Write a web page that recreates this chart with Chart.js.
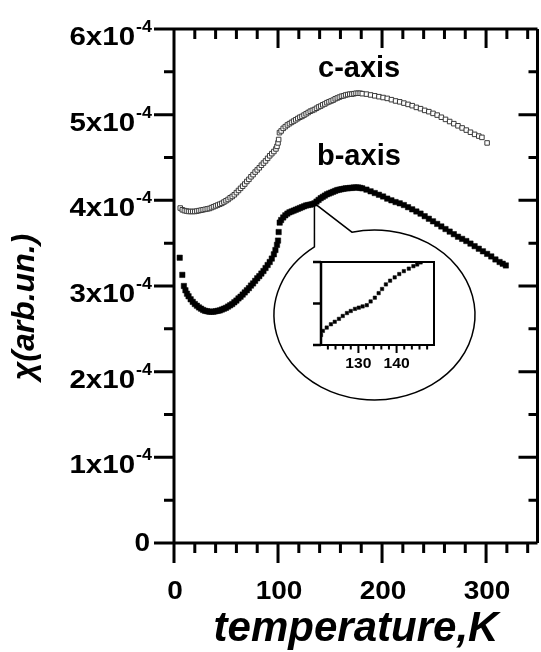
<!DOCTYPE html>
<html>
<head>
<meta charset="utf-8">
<script src="https://cdn.jsdelivr.net/npm/chart.js@4.4.1/dist/chart.umd.min.js"></script>
<style>
  html, body { margin: 0; padding: 0; background: #fff; }
  #wrap { position: relative; width: 541px; height: 652px; overflow: hidden; }
  #mainChart { position: absolute; left: 0; top: 0; }
  #insetChart { position: absolute; left: 300px; top: 250px; }
</style>
</head>
<body>
<div id="wrap">
  <canvas id="mainChart" width="541" height="652"></canvas>
  <canvas id="insetChart" width="150" height="125"></canvas>
</div>
<script>
// values are read in units of 1e-4
const UNIT = 1e-4;

const cTemps = [
  6, 8, 10, 12, 14, 16, 18, 20, 22, 24, 26, 28, 30, 32, 34, 36, 38, 40, 42, 44,
  46, 48, 50, 52, 54, 56, 58, 60, 62, 64, 66, 68, 70, 72, 74, 76, 78, 80, 82, 84,
  86, 88, 90, 92, 94, 96, 98, 99, 100, 100.6, 101.4, 103, 105, 107, 109, 111, 113, 115, 117, 119,
  121, 123, 125, 127, 129, 131, 133, 135, 137, 139, 141, 143, 145, 147, 149, 151, 153, 155, 157, 159,
  161, 163, 165, 167, 169, 171, 173, 175, 177, 179, 181,
  185, 189, 193, 197, 201, 205, 209, 213, 217, 221, 225, 229, 233, 237, 241, 245, 249, 253, 257, 261,
  265, 269, 273, 277, 281, 285, 289, 293, 296, 301,
];
const cValues = [
  3.91, 3.89, 3.88, 3.875, 3.87, 3.87, 3.87, 3.87, 3.875, 3.88, 3.885, 3.89, 3.895, 3.90, 3.905, 3.915, 3.925, 3.935, 3.945, 3.955,
  3.965, 3.98, 3.995, 4.01, 4.03, 4.045, 4.065, 4.09, 4.115, 4.14, 4.165, 4.19, 4.22, 4.245, 4.275, 4.30, 4.33, 4.355, 4.38, 4.41,
  4.435, 4.46, 4.49, 4.52, 4.545, 4.57, 4.60, 4.63, 4.67, 4.71, 4.79, 4.81, 4.84, 4.86, 4.88, 4.895, 4.91, 4.925, 4.94, 4.955,
  4.97, 4.98, 4.995, 5.01, 5.025, 5.04, 5.05, 5.06, 5.075, 5.09, 5.10, 5.115, 5.125, 5.14, 5.15, 5.16, 5.17, 5.185, 5.195, 5.205,
  5.215, 5.22, 5.23, 5.235, 5.24, 5.24, 5.245, 5.25, 5.25, 5.25, 5.245,
  5.24, 5.23, 5.22, 5.21, 5.20, 5.19, 5.175, 5.16, 5.15, 5.135, 5.12, 5.105, 5.085, 5.07, 5.05, 5.035, 5.015, 4.995, 4.97, 4.945,
  4.92, 4.895, 4.87, 4.845, 4.82, 4.795, 4.77, 4.75, 4.735, 4.67,
];

const bTemps = [
  5.5, 8, 9.5, 11, 12.5, 14, 16, 18, 20, 22, 24, 26, 28, 30, 32, 34, 36, 38, 40, 42,
  44, 46, 48, 50, 52, 54, 56, 58, 60, 62, 64, 66, 68, 70, 72, 74, 76, 78, 80, 82,
  84, 86, 88, 90, 92, 94, 96, 97.5, 99, 100, 100.6, 101.6, 103, 105, 107, 109, 111, 113, 115, 117,
  119, 121, 123, 125, 127, 129, 131, 133, 135, 137, 139, 141, 143, 145, 147, 149, 151, 153, 155, 157,
  159, 161, 163, 165, 167, 169, 171, 173, 175, 177, 179, 181,
  185, 189, 193, 197, 201, 205, 209, 213, 217, 221, 225, 229, 233, 237, 241, 245, 249, 253, 257, 261,
  265, 269, 273, 277, 281, 285, 289, 293, 297, 301, 305, 309, 313, 316, 319,
];
const bValues = [
  3.33, 3.13, 3.00, 2.95, 2.91, 2.88, 2.845, 2.815, 2.79, 2.77, 2.75, 2.735, 2.72, 2.71, 2.705, 2.70, 2.70, 2.70, 2.705, 2.71,
  2.715, 2.725, 2.735, 2.745, 2.76, 2.775, 2.79, 2.81, 2.83, 2.855, 2.875, 2.90, 2.925, 2.95, 2.975, 3.005, 3.03, 3.06, 3.09, 3.115,
  3.145, 3.175, 3.21, 3.245, 3.28, 3.32, 3.37, 3.42, 3.48, 3.53, 3.63, 3.74, 3.77, 3.80, 3.825, 3.845, 3.86, 3.87, 3.88, 3.89,
  3.90, 3.91, 3.92, 3.93, 3.94, 3.945, 3.95, 3.955, 3.965, 3.985, 4.005, 4.025, 4.04, 4.055, 4.07, 4.08, 4.09, 4.10, 4.11, 4.12,
  4.125, 4.13, 4.135, 4.14, 4.14, 4.145, 4.145, 4.15, 4.15, 4.15, 4.145, 4.14,
  4.125, 4.105, 4.085, 4.065, 4.045, 4.02, 4.00, 3.98, 3.965, 3.945, 3.92, 3.895, 3.87, 3.845, 3.815, 3.785, 3.755, 3.725, 3.695, 3.665,
  3.635, 3.605, 3.575, 3.55, 3.525, 3.495, 3.465, 3.435, 3.405, 3.375, 3.345, 3.31, 3.28, 3.26, 3.24,
];

const insetTemps = [
  120.2, 120.7, 121.7, 122.8, 123.8, 124.9, 125.9, 127.0, 128.0, 129.1, 130.1, 131.1, 132.2,
  133.2, 134.3, 135.3, 136.2, 137.2, 138.3, 139.5, 140.7, 141.9, 143.2, 144.4, 145.4, 146.3,
];
const insetValues = [
  3.924, 3.934, 3.942, 3.950, 3.956, 3.963, 3.970, 3.977, 3.982, 3.987, 3.990, 3.993, 3.996,
  4.005, 4.014, 4.025, 4.035, 4.046, 4.055, 4.063, 4.071, 4.078, 4.084, 4.090, 4.094, 4.099,
];

const xTicks = [0, 100, 200, 300];
const xTickLabels = ['0', '100', '200', '300'];
const yTicks = [0, 1, 2, 3, 4, 5, 6];
const yTickLabels = ['0', '1x10', '2x10', '3x10', '4x10', '5x10', '6x10'];
const yTickExps = ['', '-4', '-4', '-4', '-4', '-4', '-4'];
const insetXTicks = [130, 140];
const insetXTickLabels = ['130', '140'];
const insetYTicks = [3.9, 4.0, 4.1];

const calloutAt = [135, 3.965];

const FAMILY = "'Liberation Sans', Arial, sans-serif";
const LABEL_FONT = 'bold 25px ' + FAMILY;
const SUP_FONT = 'bold 16px ' + FAMILY;
const TEXT_SX = 1.12;

function toPoints(xs, ys) {
  return xs.map((t, i) => ({ x: t, y: ys[i] * UNIT }));
}

function drawText(ctx, str, x, y, font, align, baseline, sx) {
  ctx.save();
  ctx.font = font;
  ctx.textAlign = align;
  ctx.textBaseline = baseline;
  ctx.translate(x, y);
  ctx.scale(sx || 1, 1);
  ctx.fillStyle = '#000';
  ctx.fillText(str, 0, 0);
  ctx.restore();
}

const mainFrame = {
  id: 'mainFrame',
  afterDraw(chart) {
    const { ctx, chartArea: a } = chart;
    const x = chart.scales.x;
    const y = chart.scales.y;
    const rightX = a.right + 1.5;

    ctx.save();
    ctx.strokeStyle = '#000';
    ctx.lineWidth = 3;
    ctx.beginPath();
    ctx.moveTo(a.left - 1.5, a.top); ctx.lineTo(rightX, a.top);
    ctx.moveTo(a.left - 1.5, a.bottom); ctx.lineTo(rightX, a.bottom);
    ctx.moveTo(a.left, a.top); ctx.lineTo(a.left, a.bottom);
    ctx.moveTo(rightX, a.top); ctx.lineTo(rightX, a.bottom);

    for (let t = 0; t <= x.max; t += 20) {
      const px = x.getPixelForValue(t);
      const major = xTicks.includes(t);
      ctx.moveTo(px, a.bottom); ctx.lineTo(px, a.bottom + (major ? 20 : 10));
      ctx.moveTo(px, a.top); ctx.lineTo(px, a.top + (major ? 19 : 10));
    }
    for (let v = 0; v <= 6; v += 0.5) {
      const py = y.getPixelForValue(v * UNIT);
      const major = yTicks.includes(v);
      ctx.moveTo(a.left, py); ctx.lineTo(a.left - (major ? 20 : 10), py);
      ctx.moveTo(rightX, py); ctx.lineTo(rightX - (major ? 19 : 9), py);
    }
    ctx.stroke();

    // tick labels
    xTicks.forEach((t, i) => {
      drawText(ctx, xTickLabels[i], x.getPixelForValue(t) + 1, a.bottom + 56, LABEL_FONT, 'center', 'alphabetic', TEXT_SX);
    });
    yTicks.forEach((v, i) => {
      const py = y.getPixelForValue(v * UNIT);
      const right = a.left - 22;
      if (!yTickExps[i]) {
        drawText(ctx, yTickLabels[i], right - 2, py + 8, LABEL_FONT, 'right', 'alphabetic', TEXT_SX);
        return;
      }
      ctx.font = SUP_FONT;
      const supW = ctx.measureText(yTickExps[i]).width * TEXT_SX;
      drawText(ctx, yTickExps[i], right, py + 3, SUP_FONT, 'right', 'alphabetic', TEXT_SX);
      drawText(ctx, yTickLabels[i], right - supW - 1, py + 16, LABEL_FONT, 'right', 'alphabetic', 1.18);
    });

    // axis titles
    drawText(ctx, 'temperature,K', 356, 641, 'italic bold 42px ' + FAMILY, 'center', 'alphabetic', 1);
    ctx.save();
    ctx.translate(25, 307);
    ctx.rotate(-Math.PI / 2);
    drawText(ctx, '\u03C7(arb.un.)', 0, 0, 'italic bold 32px ' + FAMILY, 'center', 'middle', 1);
    ctx.restore();

    // curve labels
    drawText(ctx, 'c-axis', 318, 77, 'bold 29px ' + FAMILY, 'left', 'alphabetic', 1);
    drawText(ctx, 'b-axis', 317, 165, 'bold 29px ' + FAMILY, 'left', 'alphabetic', 1);

    // callout bubble for the inset
    const tipX = x.getPixelForValue(calloutAt[0]);
    const tipY = y.getPixelForValue(calloutAt[1] * UNIT);
    const cx = 374.5, cy = 315, rx = 100.5, ry = 85;
    const thL = -Math.acos((tipX - cx) / rx);
    const thR = -103 * Math.PI / 180;
    ctx.lineWidth = 1.5;
    ctx.beginPath();
    ctx.ellipse(cx, cy, rx, ry, 0, thR, thL + Math.PI * 2);
    ctx.lineTo(tipX, tipY);
    ctx.closePath();
    ctx.stroke();
    ctx.restore();
  },
};

const insetFrame = {
  id: 'insetFrame',
  afterDraw(chart) {
    const { ctx, chartArea: a } = chart;
    const x = chart.scales.x;
    const y = chart.scales.y;
    ctx.save();
    ctx.strokeStyle = '#000';
    ctx.lineWidth = 2;
    ctx.strokeRect(a.left, a.top, a.right - a.left, a.bottom - a.top);
    ctx.lineWidth = 2.5;
    ctx.beginPath();
    ctx.moveTo(a.left, a.top); ctx.lineTo(a.left, a.bottom);
    insetYTicks.forEach((v) => {
      const py = y.getPixelForValue(v * UNIT);
      ctx.moveTo(a.left, py); ctx.lineTo(a.left - 8, py);
    });
    ctx.stroke();
    ctx.lineWidth = 2;
    ctx.beginPath();
    for (let t = 122; t <= 148; t += 2) {
      const px = x.getPixelForValue(t);
      const major = insetXTicks.includes(t);
      ctx.moveTo(px, a.bottom); ctx.lineTo(px, a.bottom + (major ? 8 : 4.5));
    }
    ctx.stroke();
    insetXTicks.forEach((t, i) => {
      drawText(ctx, insetXTickLabels[i], x.getPixelForValue(t), a.bottom + 23, 'bold 14px ' + FAMILY, 'center', 'alphabetic', TEXT_SX);
    });
    ctx.restore();
  },
};

new Chart(document.getElementById('mainChart'), {
  type: 'scatter',
  data: {
    datasets: [
      {
        label: 'c-axis',
        data: toPoints(cTemps, cValues),
        pointStyle: 'rect',
        pointRadius: 3.2,
        borderWidth: 1,
        borderColor: '#3a3a3a',
        backgroundColor: '#ffffff',
      },
      {
        label: 'b-axis',
        data: toPoints(bTemps, bValues),
        pointStyle: 'rect',
        pointRadius: 3.8,
        borderWidth: 0.5,
        borderColor: '#000000',
        backgroundColor: '#000000',
      },
    ],
  },
  options: {
    responsive: false,
    animation: false,
    events: [],
    layout: { padding: { left: 174, top: 29, right: 0, bottom: 109 } },
    plugins: { legend: { display: false }, tooltip: { enabled: false } },
    scales: {
      x: { type: 'linear', min: 0, max: 348, display: false },
      y: { type: 'linear', min: 0, max: 6 * UNIT, display: false },
    },
  },
  plugins: [mainFrame],
});

new Chart(document.getElementById('insetChart'), {
  type: 'scatter',
  data: {
    datasets: [
      {
        label: 'b-axis detail',
        data: toPoints(insetTemps, insetValues),
        pointStyle: 'rect',
        pointRadius: 2.4,
        borderWidth: 0.5,
        borderColor: '#000000',
        backgroundColor: '#000000',
      },
    ],
  },
  options: {
    responsive: false,
    animation: false,
    events: [],
    layout: { padding: { left: 21, top: 12, right: 16, bottom: 30 } },
    plugins: { legend: { display: false }, tooltip: { enabled: false } },
    scales: {
      x: { type: 'linear', min: 120.2, max: 149.8, display: false },
      y: { type: 'linear', min: 3.9 * UNIT, max: 4.1 * UNIT, display: false },
    },
  },
  plugins: [insetFrame],
});
</script>
</body>
</html>
